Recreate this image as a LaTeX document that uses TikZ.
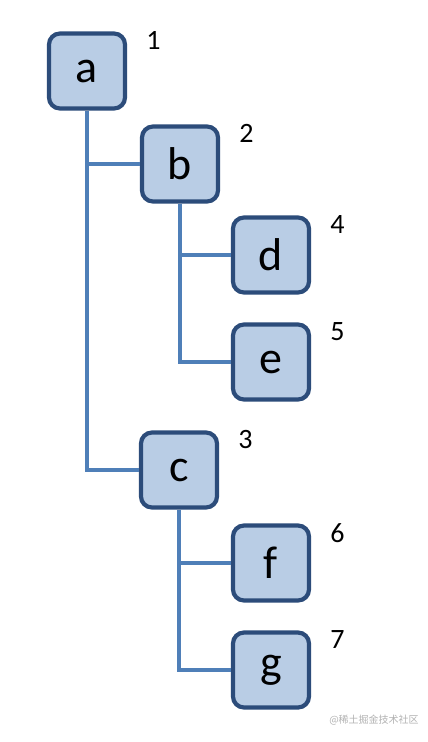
\documentclass[tikz,border=0pt]{standalone}
\usepackage{fontspec}
\setmainfont{Carlito}
\newfontfamily\cjkfont{Noto Sans CJK SC}
\usepackage{tikz}
\usetikzlibrary{positioning}
\definecolor{boxfill}{HTML}{B9CDE5}
\definecolor{boxline}{HTML}{2C4C7A}
\definecolor{linkcol}{HTML}{4F7FB8}

\begin{document}
\begin{tikzpicture}[x=1pt, y=-1pt,
    treebox/.style={draw=boxline, line width=4.2pt, fill=boxfill, rounded corners=11pt,
                    minimum width=76pt, minimum height=75pt, inner sep=0pt,
                    font=\fontsize{46}{46}\selectfont},
    num/.style={anchor=north west, inner sep=0pt, font=\fontsize{28}{28}\selectfont},
    link/.style={linkcol, line width=3.4pt}]

    % ── Canvas ───────────────────────────────────────────────────────────────
    \useasboundingbox[fill=white] (0,0) rectangle (428,742);

    % ── Boxes ────────────────────────────────────────────────────────────────
    \node[treebox] (a) at (87,71) {a};
    \node[treebox] (b) at (180,164) {b};
    \node[treebox] (d) at (271,255) {d};
    \node[treebox] (e) at (271,362) {e};
    \node[treebox] (c) at (179,470) {c};
    \node[treebox] (f) at (271,563) {f};
    \node[treebox] (g) at (271,670) {g};

    % ── Tree links ───────────────────────────────────────────────────────────
    \draw[link] (a.south) |- (b.west);
    \draw[link] (a.south) |- (c.west);
    \draw[link] (b.south) |- (d.west);
    \draw[link] (b.south) |- (e.west);
    \draw[link] (c.south) |- (f.west);
    \draw[link] (c.south) |- (g.west);

    % ── Visit order ─────────────────────────────────────────────────────────
    \node[num] (n1) at ([xshift=19pt,yshift=0pt]a.north east) {1};
    \node[num] (n2) at ([xshift=19pt,yshift=0pt]b.north east) {2};
    \node[num] (n4) at ([xshift=19pt,yshift=0pt]d.north east) {4};
    \node[num] (n5) at ([xshift=19pt,yshift=0pt]e.north east) {5};
    \node[num] (n3) at ([xshift=19pt,yshift=0pt]c.north east) {3};
    \node[num] (n6) at ([xshift=19pt,yshift=0pt]f.north east) {6};
    \node[num] (n7) at ([xshift=19pt,yshift=0pt]g.north east) {7};

    % ── Watermark ───────────────────────────────────────────────────────────
    \node[text=gray!60, font=\cjkfont\fontsize{10}{10}\selectfont] (mark)
        at (374,720) {@稀土掘金技术社区};

\end{tikzpicture}
\end{document}
